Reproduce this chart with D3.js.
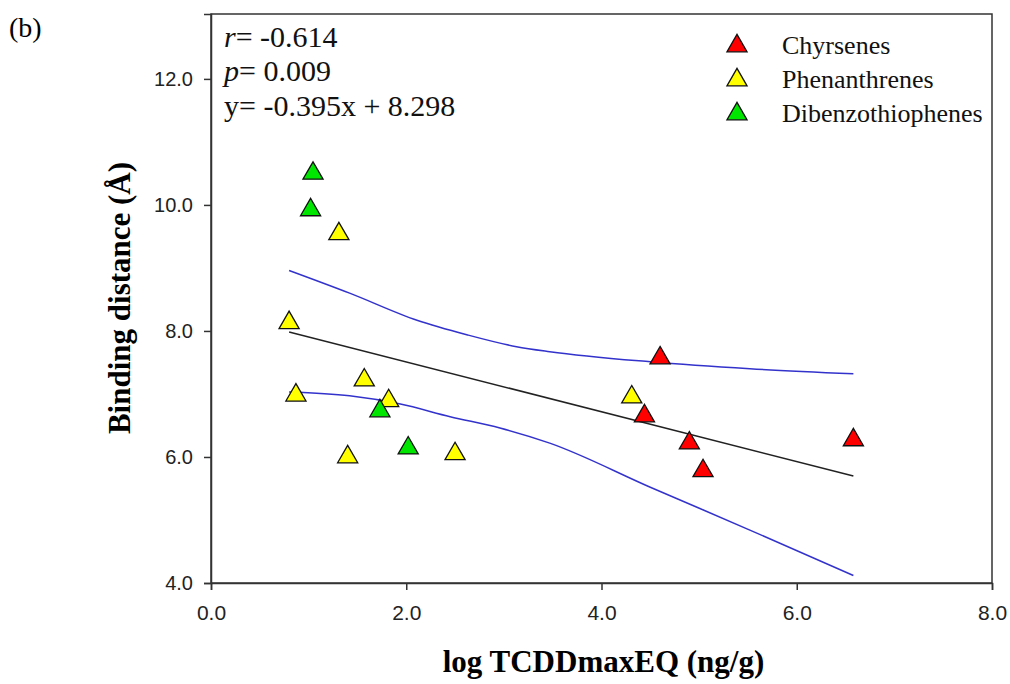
<!DOCTYPE html>
<html>
<head>
<meta charset="utf-8">
<script src="https://cdn.jsdelivr.net/npm/d3@7"></script>
<style>
  body { margin: 0; background: #fff; }
  svg { display: block; }
</style>
</head>
<body>
<svg id="chart" width="1010" height="684"></svg>
<script>
// points: [log TCDDmaxEQ, binding distance]
const chrysenes = [[4.60, 7.57], [4.44, 6.65], [4.90, 6.22], [5.04, 5.78], [6.58, 6.27]];
const phenanthrenes = [[1.31, 9.54], [0.80, 8.13], [0.87, 6.98], [1.57, 7.22], [1.82, 6.89], [1.40, 6.00], [2.50, 6.05], [4.31, 6.95]];
const dibenzothiophenes = [[1.045, 10.50], [1.02, 9.92], [1.73, 6.73], [2.02, 6.14]];

const seriesNames = ['Chyrsenes', 'Phenanthrenes', 'Dibenzothiophenes'];
const seriesColors = ['#ff0000', '#ffff00', '#00e600'];

// regression line and 95% band
const fitX = [0.8, 6.58];
const slope = -0.395, intercept = 8.298;
const upperBand = [[0.80, 8.96], [1.42, 8.60], [2.11, 8.17], [2.62, 7.94], [3.13, 7.75], [3.47, 7.67], [4.50, 7.51], [5.52, 7.40], [6.58, 7.32]];
const lowerBand = [[0.80, 7.03], [1.42, 6.97], [1.94, 6.84], [2.45, 6.64], [2.96, 6.46], [3.47, 6.22], [4.50, 5.52], [5.52, 4.84], [6.58, 4.12]];

const xTicks = [0, 2, 4, 6, 8];
const yTicks = [4, 6, 8, 10, 12];

const svg = d3.select('#chart');
const margin = { top: 14, right: 18, bottom: 101, left: 211 };
const width = 1010 - margin.left - margin.right;
const height = 684 - margin.top - margin.bottom;

const g = svg.append('g').attr('transform', `translate(${margin.left},${margin.top})`);

const x = d3.scaleLinear().domain([0, 8]).range([0, width]);
const y = d3.scaleLinear().domain([4, 13.03]).range([height, 0]);

// frame
g.append('rect')
  .attr('width', width).attr('height', height)
  .attr('fill', 'none').attr('stroke', '#333').attr('stroke-width', 1.5);

// axes
const xAxis = g.append('g')
  .attr('transform', `translate(0,${height})`)
  .call(d3.axisBottom(x).tickValues(xTicks).tickFormat(d3.format('.1f')).tickSizeOuter(0).tickSize(7).tickPadding(15));
const yAxis = g.append('g')
  .call(d3.axisLeft(y).tickValues(yTicks).tickFormat(d3.format('.1f')).tickSizeOuter(0).tickSize(7).tickPadding(11));

[xAxis, yAxis].forEach(ax => {
  ax.select('.domain').attr('stroke', '#333').attr('stroke-width', 1.5);
  ax.selectAll('.tick line').attr('stroke', '#333').attr('stroke-width', 1.5);
  ax.selectAll('.tick text')
    .attr('font-family', 'Liberation Sans, Arial, sans-serif')
    .attr('fill', '#222');
});
yAxis.selectAll('.tick text').attr('font-size', 20);
xAxis.selectAll('.tick text').attr('font-size', 21);

// confidence band and fit
const line = d3.line().x(d => x(d[0])).y(d => y(d[1])).curve(d3.curveMonotoneX);
[upperBand, lowerBand].forEach(band => {
  g.append('path').datum(band)
    .attr('d', line).attr('fill', 'none')
    .attr('stroke', '#3333cc').attr('stroke-width', 1.5);
});
g.append('path')
  .datum(fitX.map(v => [v, slope * v + intercept]))
  .attr('d', line).attr('fill', 'none')
  .attr('stroke', '#222').attr('stroke-width', 1.5);

// points
const tri = d3.symbol().type(d3.symbolTriangle).size(175);
[chrysenes, phenanthrenes, dibenzothiophenes].forEach((pts, i) => {
  g.selectAll(null).data(pts).enter()
    .append('path')
    .attr('d', tri)
    .attr('transform', d => `translate(${x(d[0])},${y(d[1])})`)
    .attr('fill', seriesColors[i])
    .attr('stroke', '#111').attr('stroke-width', 1.3);
});

// stats text
const serif = 'Liberation Serif, Times New Roman, serif';
const stats = g.append('g').attr('font-family', serif).attr('font-size', 30).attr('fill', '#111');
const t1 = stats.append('text').attr('x', 13).attr('y', 33);
t1.append('tspan').attr('font-style', 'italic').text('r');
t1.append('tspan').text('= -0.614');
const t2 = stats.append('text').attr('x', 13).attr('y', 67);
t2.append('tspan').attr('font-style', 'italic').text('p');
t2.append('tspan').text('= 0.009');
stats.append('text').attr('x', 13).attr('y', 102).text('y= -0.395x + 8.298');

// legend
const legend = g.append('g').attr('transform', `translate(${737 - margin.left},${46 - margin.top})`);
seriesNames.forEach((name, i) => {
  const row = legend.append('g').attr('transform', `translate(0,${i * 34})`);
  row.append('path').attr('d', tri).attr('fill', seriesColors[i])
    .attr('stroke', '#111').attr('stroke-width', 1.3);
  row.append('text').attr('x', 45).attr('y', 8)
    .attr('font-family', serif).attr('font-size', 26).attr('fill', '#111')
    .text(name);
});

// axis titles
svg.append('text')
  .attr('x', margin.left + width / 2 + 2).attr('y', 672)
  .attr('text-anchor', 'middle')
  .attr('font-family', serif).attr('font-weight', 'bold').attr('font-size', 31)
  .text('log TCDDmaxEQ (ng/g)');
svg.append('text')
  .attr('transform', `translate(130,${margin.top + 284}) rotate(-90)`)
  .attr('text-anchor', 'middle')
  .attr('font-family', serif).attr('font-weight', 'bold').attr('font-size', 31)
  .text('Binding distance (Å)');

svg.append('text')
  .attr('x', 9).attr('y', 37)
  .attr('font-family', serif).attr('font-size', 28)
  .text('(b)');
</script>
</body>
</html>
